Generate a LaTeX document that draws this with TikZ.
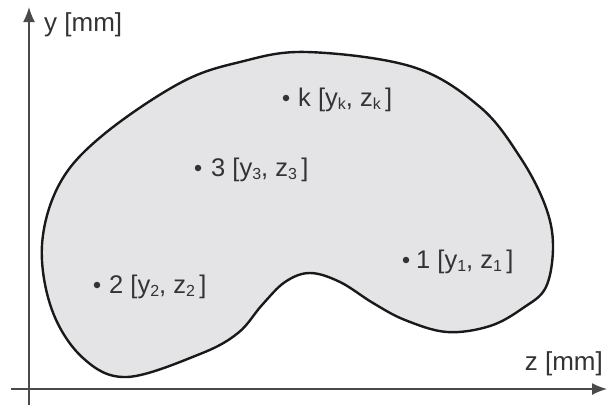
\documentclass[tikz,border=0pt]{standalone}
\usepackage{fontspec}
\setmainfont{Liberation Sans}
\usetikzlibrary{arrows.meta}
\definecolor{blobfill}{HTML}{E4E4E6}
\definecolor{axisgray}{HTML}{4A4A4A}
\definecolor{txtgray}{HTML}{333333}
\tikzset{
  axisline/.style={draw=axisgray, line width=1.6pt, -{Latex[length=15pt,width=12pt]}},
  blob/.style={draw=black!90, line width=2.4pt, fill=blobfill},
  pdot/.style={circle, fill=txtgray, inner sep=0pt, minimum size=6.5pt},
  plabel/.style={anchor=west, inner sep=0pt, text=txtgray, font=\fontsize{25.5}{28}\selectfont},
  axlabel/.style={inner sep=0pt, text=txtgray, font=\fontsize{26}{28}\selectfont}
}
\newcommand{\sbs}[1]{\raisebox{-0.25ex}{\fontsize{16}{17}\selectfont #1}}
\begin{document}
\begin{tikzpicture}[x=1pt,y=-1pt]
\useasboundingbox (0,0) rectangle (609,405);
% blob
\path[blob] plot[smooth cycle, tension=0.6] coordinates {
 (42,245) (60,183) (103,135) (180,83) (240,62) (307,52) (413,67) (480,107)
 (520,157) (545,205) (553,245) (546,287) (523,308) (490,326) (447,332)
 (405,320) (373,303) (340,282) (310,273) (285,282) (262,305) (238,333)
 (200,354) (127,377) (83,358) (52,310)};
% axes
\coordinate (ystart) at (29,405);
\coordinate (yend) at (29,7);
\coordinate (xstart) at (11,389);
\coordinate (xend) at (607,389);
\draw[axisline] (ystart) -- (yend);
\draw[axisline] (xstart) -- (xend);
\node[axlabel, anchor=west] (ylab) at (44,25) {y [mm]};
\node[axlabel, anchor=east] (zlab) at (603,364) {z [mm]};
% points
\node[pdot] (pk) at (286,98) {};
\node[pdot] (p3) at (198,168) {};
\node[pdot] (p2) at (97,285) {};
\node[pdot] (p1) at (406,260) {};
\node[plabel] (lk) at (298,100) {k [y\sbs{k}, z\sbs{k}\,]};
\node[plabel] (l3) at (211,170) {3 [y\sbs{3}, z\sbs{3}\,]};
\node[plabel] (l2) at (109,287) {2 [y\sbs{2}, z\sbs{2}\,]};
\node[plabel] (l1) at (416,262) {1 [y\sbs{1}, z\sbs{1}\,]};
\end{tikzpicture}
\end{document}
